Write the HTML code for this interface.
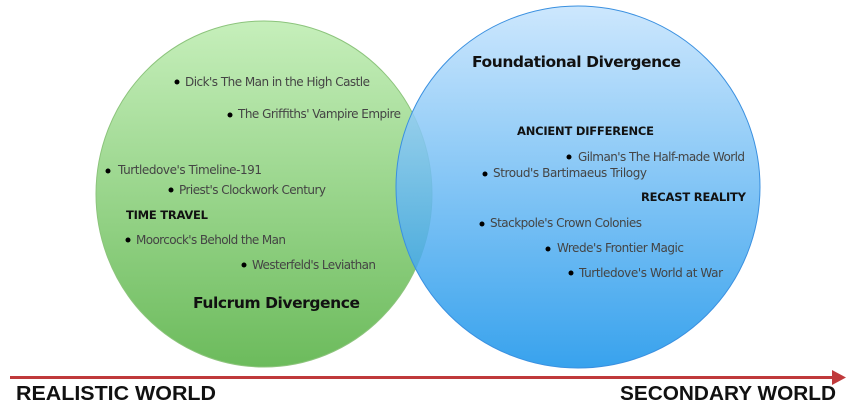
<!DOCTYPE html>
<html><head><meta charset="utf-8"><style>
html,body{margin:0;padding:0;background:#fff;width:854px;height:409px;overflow:hidden}
svg{display:block}
.i{font-family:"DejaVu Sans","Liberation Sans",sans-serif;font-size:12px;fill:#444}
.h{font-family:"DejaVu Sans","Liberation Sans",sans-serif;font-size:11.5px;font-weight:bold;fill:#111}
.t{font-family:"DejaVu Sans","Liberation Sans",sans-serif;font-size:15.5px;font-weight:bold;fill:#111}
.a{font-family:"Liberation Sans",sans-serif;font-size:20px;font-weight:bold;fill:#111}
</style></head><body>
<svg width="854" height="409" viewBox="0 0 854 409" xmlns="http://www.w3.org/2000/svg">
<defs>
<linearGradient id="g" x1="0" y1="0" x2="0" y2="1"><stop offset="0" stop-color="#c6efbb"/><stop offset="1" stop-color="#6cbb5c"/></linearGradient>
<linearGradient id="b" x1="0" y1="0" x2="0" y2="1"><stop offset="0" stop-color="#c4e3fd"/><stop offset="1" stop-color="#1592ea"/></linearGradient>
</defs>
<ellipse cx="264" cy="194" rx="168" ry="173" fill="url(#g)" stroke="#8cc47c" stroke-width="1"/>
<ellipse cx="578" cy="187" rx="182" ry="181" fill="url(#b)" fill-opacity="0.85" stroke="#3a90e0" stroke-width="1"/>
<g fill="#000">
<circle cx="177" cy="82" r="2.5"/><circle cx="230" cy="115" r="2.5"/><circle cx="108" cy="171" r="2.5"/><circle cx="171" cy="190" r="2.5"/><circle cx="128" cy="240" r="2.5"/><circle cx="244" cy="265" r="2.5"/>
<circle cx="569" cy="157" r="2.5"/><circle cx="485" cy="174" r="2.5"/><circle cx="482" cy="224" r="2.5"/><circle cx="548" cy="249" r="2.5"/><circle cx="571" cy="273" r="2.5"/>
</g>
<text class="i" x="185" y="86" textLength="185">Dick's The Man in the High Castle</text>
<text class="i" x="238" y="118" textLength="163">The Griffiths' Vampire Empire</text>
<text class="i" x="118" y="174" textLength="144">Turtledove's Timeline-191</text>
<text class="i" x="179" y="194" textLength="147">Priest's Clockwork Century</text>
<text class="h" x="126" y="219" textLength="82">TIME TRAVEL</text>
<text class="i" x="136" y="244" textLength="150">Moorcock's Behold the Man</text>
<text class="i" x="252" y="269" textLength="124">Westerfeld's Leviathan</text>
<text class="t" x="193" y="308" textLength="167">Fulcrum Divergence</text>
<text class="t" x="472" y="67" textLength="209">Foundational Divergence</text>
<text class="h" x="517" y="135" textLength="137">ANCIENT DIFFERENCE</text>
<text class="i" x="578" y="161" textLength="167">Gilman's The Half-made World</text>
<text class="i" x="493" y="177" textLength="154">Stroud's Bartimaeus Trilogy</text>
<text class="h" x="641" y="201" textLength="105">RECAST REALITY</text>
<text class="i" x="490" y="227" textLength="152">Stackpole's Crown Colonies</text>
<text class="i" x="557" y="252" textLength="127">Wrede's Frontier Magic</text>
<text class="i" x="579" y="277" textLength="144">Turtledove's World at War</text>
<line x1="10" y1="377.5" x2="834" y2="377.5" stroke="#c0393b" stroke-width="3"/>
<polygon points="832,370 846,377.5 832,385" fill="#c0393b"/>
<text class="a" x="16" y="400" textLength="200" lengthAdjust="spacingAndGlyphs">REALISTIC WORLD</text>
<text class="a" x="620" y="400" textLength="216" lengthAdjust="spacingAndGlyphs">SECONDARY WORLD</text>
</svg>
</body></html>
